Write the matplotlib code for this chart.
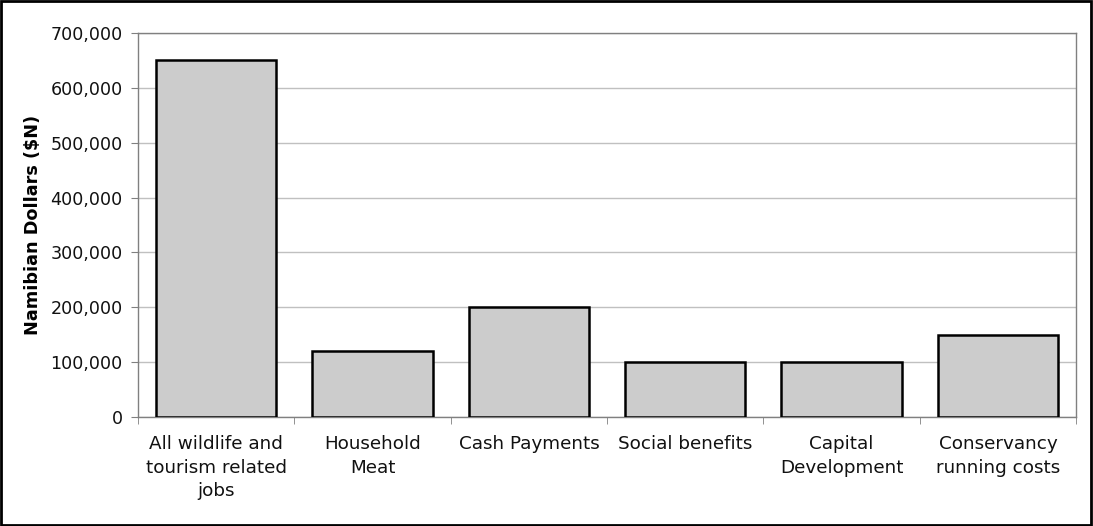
import numpy as np
from matplotlib import pyplot as plt
from matplotlib.patches import Rectangle
from matplotlib.ticker import FuncFormatter, FixedLocator

plt.rcParams['font.family'] = ['DejaVu Sans']

categories = ['All wildlife and\ntourism related\njobs', 'Household\nMeat', 'Cash Payments',
              'Social benefits', 'Capital\nDevelopment', 'Conservancy\nrunning costs']
values = [650000, 120000, 200000, 100000, 100000, 150000]
yticks = [0, 100000, 200000, 300000, 400000, 500000, 600000, 700000]

fig = plt.figure(figsize=(10.93, 5.26), dpi=100)
ax = fig.add_axes([0.1263, 0.2072, 0.8582, 0.7301])

x = np.arange(len(categories))
ax.bar(x, values, width=0.77, color='#cccccc', edgecolor='black', linewidth=1.8, zorder=3)

ax.set_xlim(-0.5, len(categories) - 0.5)
ax.set_ylim(0, 700000)
ax.set_yticks(yticks)
ax.yaxis.set_major_formatter(FuncFormatter(lambda v, p: f'{int(v):,}'))
ax.grid(axis='y', color='#c0c0c0', linewidth=1, zorder=0)

ax.set_xticks(x)
ax.set_xticklabels(categories, fontsize=13.2, linespacing=1.4)
ax.tick_params(axis='x', which='major', length=0, pad=13)
ax.xaxis.set_minor_locator(FixedLocator(np.arange(-0.5, len(categories), 1.0)))
ax.tick_params(axis='x', which='minor', length=5, color='#808080')
ax.tick_params(axis='y', labelsize=12.6, length=5, color='#808080', pad=6, labelcolor='#111111')
ax.tick_params(axis='x', labelcolor='#111111')

for s in ['left', 'right', 'top', 'bottom']:
    ax.spines[s].set_color('#808080')
    ax.spines[s].set_linewidth(1)

ax.set_ylabel('Namibian Dollars ($N)', fontsize=12.7, fontweight='bold', labelpad=6)

fig.patches.append(Rectangle((0.001, 0.002), 0.997, 0.996, transform=fig.transFigure,
                             fill=False, edgecolor='black', linewidth=2))

fig.savefig('out.png', dpi=100)
plt.close()
